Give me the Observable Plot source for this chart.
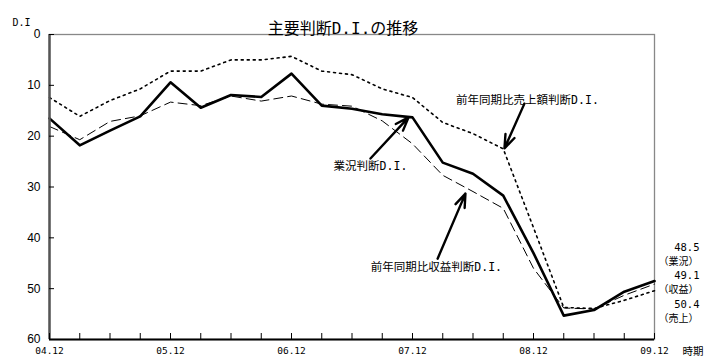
<!DOCTYPE html>
<html><head><meta charset="utf-8">
<script src="https://cdn.jsdelivr.net/npm/d3@7"></script>
<script src="https://cdn.jsdelivr.net/npm/@observablehq/plot@0.6"></script>
<style>body{margin:0;background:#fff}</style>
</head><body><div id="chart"></div>
<script>
// ---- data ----
const periods = ["04.12","05.03","05.06","05.09","05.12","06.03","06.06","06.09","06.12","07.03","07.06","07.09","07.12","08.03","08.06","08.09","08.12","09.03","09.06","09.09","09.12"];
const gyokyo = [16.5,21.8,18.9,16.1,9.4,14.4,11.9,12.3,7.7,14.0,14.6,15.7,16.3,25.2,27.4,31.7,43.0,55.3,54.2,50.6,48.5];
const shueki = [18.1,20.7,17.1,16.0,13.3,14.0,12.1,13.1,12.1,13.7,14.1,17.0,21.5,27.7,30.9,34.2,46.0,53.8,54.0,51.3,49.1];
const uriage = [12.4,16.1,13.0,10.7,7.2,7.2,5.0,5.0,4.3,7.2,7.9,10.7,12.4,17.3,19.5,22.5,38.0,53.7,53.9,52.3,50.4];
const yTicks = [0,10,20,30,40,50,60];
const title = "主要判断D.I.の推移";
const yLabel = "D.I";
const xLabel = "時期";
// callouts (data coordinates: period index, D.I value)
const calloutText = ["前年同期比売上額判断D.I.", "業況判断D.I.", "前年同期比収益判断D.I."];
const calloutX = [15.8, 10.61, 12.79];
const calloutY = [13.0, 26.0, 45.8];
const arrowX1 = [15.70, 10.61, 12.83];
const arrowY1 = [13.6, 24.4, 44.1];
const arrowX2 = [15.04, 11.87, 13.75];
const arrowY2 = [22.4, 16.3, 31.3];
const endValues = ["48.5","49.1","50.4"];
const endNames = ["（業況）","（収益）","（売上）"];
const endValueY = [41.9, 47.4, 53.1];
const endNameY = [44.7, 50.2, 55.9];

// ---- build tables ----
const toRows = arr => arr.map((v, i) => ({i, period: periods[i], value: v}));
const rowsG = toRows(gyokyo), rowsS = toRows(shueki), rowsU = toRows(uriage);
const callouts = calloutText.map((t, k) => ({t, x: calloutX[k], y: calloutY[k]}));
const arrows = arrowX1.map((x1, k) => ({x1, y1: arrowY1[k], x2: arrowX2[k], y2: arrowY2[k]}));
const endVals = endValues.map((t, k) => ({t, y: endValueY[k]}));
const endNms = endNames.map((t, k) => ({t, y: endNameY[k]}));
const idx = periods.map((_, i) => i);
const labelIdx = idx.filter(i => i % 4 === 0);

const jp = '"DejaVu Sans Mono","Noto Sans CJK JP",sans-serif';
const cjk = '"Noto Sans CJK JP",sans-serif';
const sans = '"Liberation Sans","Noto Sans CJK JP",sans-serif';

const chart = Plot.plot({
  width: 704, height: 360,
  marginLeft: 49, marginRight: 50, marginTop: 34, marginBottom: 21,
  style: {fontFamily: sans, background: "#fff", color: "#000"},
  x: {domain: [0, 20]},
  y: {domain: [0, 60], reverse: true},
  marks: [
    Plot.frame({stroke: "#888", strokeWidth: 1.3}),
    Plot.line(rowsU, {x: "i", y: "value", stroke: "#000", strokeWidth: 1.6, strokeDasharray: "2,4"}),
    Plot.line(rowsS, {x: "i", y: "value", stroke: "#000", strokeWidth: 1, strokeDasharray: "9,5"}),
    Plot.line(rowsG, {x: "i", y: "value", stroke: "#000", strokeWidth: 2.6}),
    Plot.ruleX([0], {stroke: "#555", strokeWidth: 2.5}),
    Plot.ruleY([60], {stroke: "#000", strokeWidth: 2}),
    Plot.axisY(yTicks, {tickSize: -5, tickFormat: () => "", stroke: "#000"}),
    Plot.axisY(yTicks, {tickSize: 0, tickPadding: 9, fontSize: 12, fontFamily: sans}),
    Plot.axisX(idx, {tickSize: -6, tickFormat: () => "", stroke: "#000"}),
    Plot.axisX(labelIdx, {tickSize: 0, tickPadding: 8, fontSize: 9.5, fontFamily: jp, tickFormat: i => periods[i]}),
    Plot.arrow(arrows, {x1: "x1", y1: "y1", x2: "x2", y2: "y2", stroke: "#000", strokeWidth: 2.4, headLength: 9, headAngle: 40}),
    Plot.text(callouts, {x: "x", y: "y", text: "t", fontSize: 11.5, fontFamily: jp, fill: "#000"}),
    Plot.text([title], {frameAnchor: "top", dx: -9, dy: -12, fontSize: 16, fontFamily: jp, fill: "#000"}),
    Plot.text([yLabel], {frameAnchor: "top-left", dx: -37, dy: -16, textAnchor: "start", fontSize: 10, fontFamily: jp, fill: "#000"}),
    Plot.text([xLabel], {frameAnchor: "bottom-right", dx: 28, dy: 15, textAnchor: "start", fontSize: 10.5, fontFamily: cjk, fill: "#000"}),
    Plot.text(endVals, {frameAnchor: "right", y: "y", text: "t", dx: 45, textAnchor: "end", fontSize: 10.5, fontFamily: jp, fill: "#000"}),
    Plot.text(endNms, {frameAnchor: "right", y: "y", text: "t", dx: 4, textAnchor: "start", fontSize: 10, fontFamily: cjk, fill: "#000"})
  ]
});
document.getElementById("chart").append(chart);
</script>
</body></html>
